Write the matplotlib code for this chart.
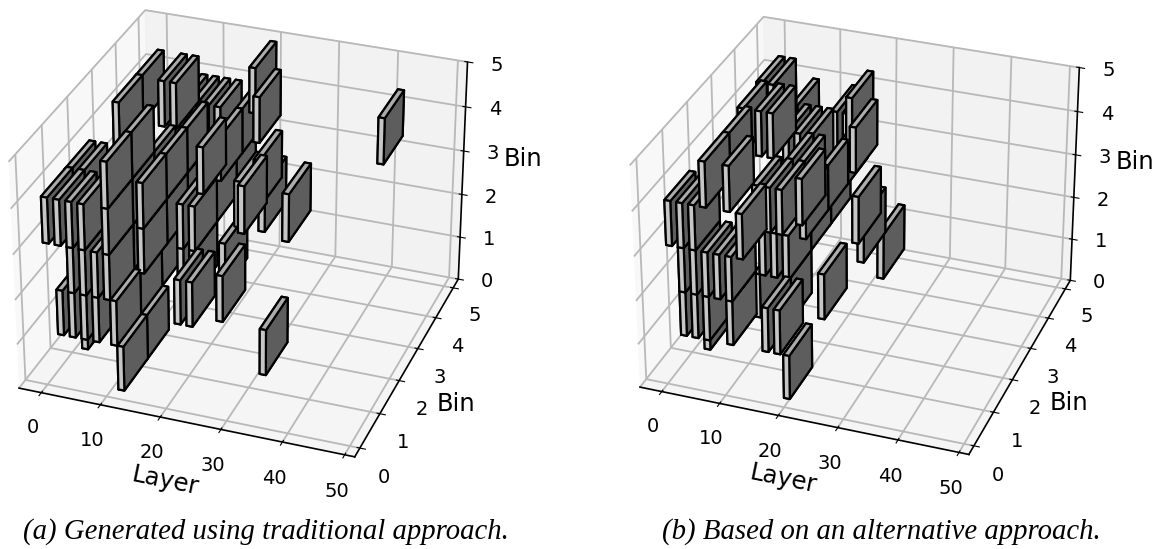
import matplotlib
matplotlib.use('Agg')
import matplotlib.pyplot as plt

a_x=[2,4,6,8, 4,6,8, 0,2,4,6, 0,2, 10,10,10,10,10,10, 11, 11,11, 12,12, 12,12,10,12,12, 12,12, 35.5, 28.5,25.5, 18,20, 15,17,17,17,15,17, 22,26, 18,18, 39,30,31.5,32, 4.5,4.5,8.5,10.5, 8.5,10.5,12.5,14.5, 20.5,24.5, 45, 2]
a_y=[0,0,0,0, 0,0,0, 0,0,0,0, 1,1, 0,0,0,1,1,1, 0, 1,2, 1,1, 2,3,2,2,3, 0,1, 0, 0,1, 1,1, 2,2,3,4,2,2, 1,1.6, 3,4, 0,1.6,0.9,0, 2,3,3,3, 4,4,4,4, 4,3, 3, 1]
a_z=[1,1,1,1, 2,2,2, 3,3,3,3, 3,3, 2,3,4,4,3,2, 1, 1,1, 2,3, 3,3,3,2,2, 0,0, 1, 2,2, 1,1, 2,2,2,2,1,1, 4,3, 3,3, 4,3,4,4, 4,4,4,4, 3,3,3,3, 4,4, 4, 0]

b_x=[0,2,4, 2,4,6,8,10, 2,4,6, 2, 10, 19.5, 16,18, 25.5, 30,30,32, 12,10,6,6, 22,13,24,20, 16,14, 5,8,10,6.5,4.5,7, 9,11,13, 12,14,16,16,16,16, 11,11, 19,19,19, 13,15,15,11]
b_y=[0,0,0, 0,0,0,0,0, 0,0,0, 1, 0, 0, 0,0, 0, 1.6,0.6,-0.25, 0,0,0,1, 0,2,2,3, 4,4, 2,2,2,3,3,4, 3,3,3, 1,1,1,2,3,1, 1,2, 1,2,3, 1,1,2,1]
b_z=[3,3,3, 2,2,2,2,2, 1,1,1, 0, 1, 0, 1,1, 2, 2,3,4, 3,4,4,4, 4,3,4,4, 3,3, 4,4,4,4,4,3, 3,3,3, 2,2,2,2,2,1, 1,1, 3,3,3, 3,3,3,3]

x_ticks=[0,10,20,30,40,50]
bin_ticks=[0,1,2,3,4,5]
y_off=0.25
y_scale=0.92

fig=plt.figure(figsize=(11.61,5.49),dpi=100)
def panel(pos,xs,ys,zs,x_off):
    ax=fig.add_axes(pos,projection='3d')
    ax.view_init(elev=30,azim=-70)
    ax.set_box_aspect((4,4,2.925))
    ax.bar3d([v+x_off for v in xs],[v*y_scale+y_off for v in ys],zs,1,1,1,color='0.88',edgecolor='k',linewidth=1.6,shade=True)
    ax.set_xlim(-3.8,51.6);ax.set_ylim(-0.25,5.3);ax.set_zlim(0,5)
    ax.set_xticks(x_ticks);ax.set_yticks(bin_ticks);ax.set_zticks(bin_ticks)
    ax.tick_params(labelsize=14)
    ax.tick_params(axis='x',pad=5)
    ax.tick_params(axis='y',pad=6)
    ax.tick_params(axis='z',pad=6)
    ax.set_xlabel('Layer',fontsize=17.5,labelpad=8);ax.set_ylabel('Bin',fontsize=17.5,labelpad=8);ax.set_zlabel('Bin',fontsize=17.5,labelpad=8)
    for a in (ax.xaxis,ax.yaxis,ax.zaxis):
        a._axinfo['grid']['linewidth']=1.3
        a._axinfo['grid']['color']=(0.72,0.72,0.72,1)
        a.line.set_linewidth(1.2)
    return ax
panel([-0.055,0.087,0.52,0.985],a_x,a_y,a_z,-1.0)
panel([0.476,0.093,0.52,0.965],b_x,b_y,b_z,-0.5)
fig.text(0.229,0.018,'(a) Generated using traditional approach.',family='Liberation Serif',style='italic',fontsize=20.7,ha='center')
fig.text(0.759,0.018,'(b) Based on an alternative approach.',family='Liberation Serif',style='italic',fontsize=20.7,ha='center')
fig.savefig('out.png',dpi=100)
